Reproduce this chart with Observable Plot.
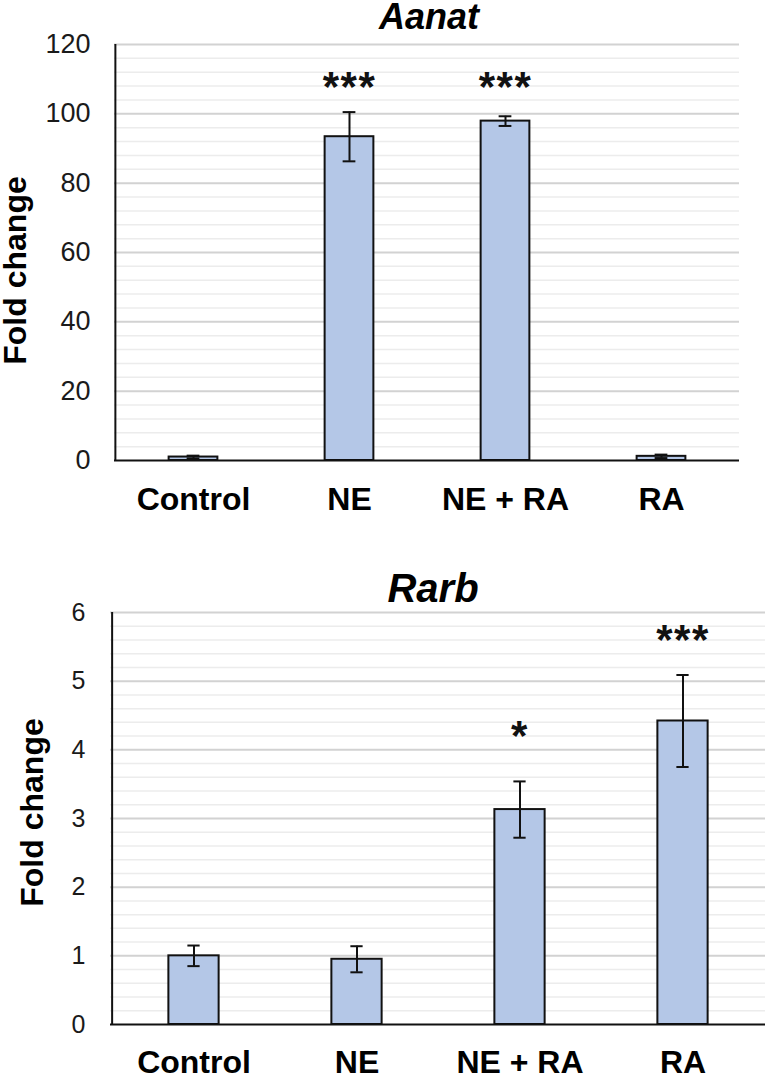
<!DOCTYPE html>
<html>
<head>
<meta charset="utf-8">
<script src="https://cdn.jsdelivr.net/npm/d3@7"></script>
<script src="https://cdn.jsdelivr.net/npm/@observablehq/plot@0.6"></script>
<style>
  html, body { margin: 0; padding: 0; background: #fff; overflow: hidden; }
  svg { display: block; }
  .stars text { letter-spacing: 1.5px; }
</style>
</head>
<body>
<div id="top"></div>
<div id="bottom"></div>
<script>
const categories = ["Control", "NE", "NE + RA", "RA"];

const aanatMean = [1.0, 93.4, 97.9, 1.2];
const aanatErr = [0.4, 7.1, 1.4, 0.5];
const aanatSig = ["", "***", "***", ""];
const aanatSigAt = [null, 103.6, 103.6, null];
const aanatTicks = [0, 20, 40, 60, 80, 100, 120];

const rarbMean = [1.0, 0.95, 3.13, 4.42];
const rarbErr = [0.15, 0.19, 0.41, 0.67];
const rarbSig = ["", "", "*", "***"];
const rarbSigAt = [null, null, 4.0, 5.40];
const rarbTicks = [0, 1, 2, 3, 4, 5, 6];

const FONT = "'Liberation Sans', Arial, Helvetica, sans-serif";

function chart(cfg) {
  const data = categories.map((c, i) => ({
    cat: c, mean: cfg.mean[i], err: cfg.err[i], sig: cfg.sig[i], sigAt: cfg.sigAt[i]
  }));
  const max = cfg.ticks[cfg.ticks.length - 1];
  const step = cfg.ticks[1] - cfg.ticks[0];
  const minorStep = step / 5;
  const minor = d3.range(1, Math.round(max / minorStep) + 1)
    .map(k => k * minorStep)
    .filter((v, k) => (k + 1) % 5 !== 0);
  const plotW = cfg.width - cfg.marginLeft - cfg.marginRight;
  const band = plotW / categories.length;
  const barInset = (band - cfg.barWidth) / 2;
  const capInset = (band - 13) / 2;
  return Plot.plot({
    width: cfg.width,
    height: cfg.height,
    marginTop: cfg.marginTop,
    marginBottom: cfg.marginBottom,
    marginLeft: cfg.marginLeft,
    marginRight: cfg.marginRight,
    style: { fontFamily: FONT, background: "#fff", color: "#000", overflow: "visible" },
    x: { domain: categories, padding: 0, axis: null },
    y: { domain: [0, max], axis: null },
    marks: [
      Plot.ruleY(minor, { stroke: "#ececec", strokeWidth: 1.5 }),
      Plot.ruleY(cfg.ticks.filter(t => t > 0), { stroke: "#d2d2d2", strokeWidth: 2 }),
      Plot.barY(data, {
        x: "cat", y: "mean", fill: "#b4c7e7", stroke: "#111", strokeWidth: 2,
        insetLeft: barInset, insetRight: barInset
      }),
      Plot.ruleX(data, {
        x: "cat", y1: d => Math.max(0, d.mean - d.err), y2: d => d.mean + d.err,
        stroke: "#111", strokeWidth: 2
      }),
      Plot.tickY(data, {
        x: "cat", y: d => d.mean + d.err, stroke: "#111", strokeWidth: 2,
        insetLeft: capInset, insetRight: capInset
      }),
      Plot.tickY(data, {
        x: "cat", y: d => Math.max(0, d.mean - d.err), stroke: "#111", strokeWidth: 2,
        insetLeft: capInset, insetRight: capInset
      }),
      Plot.ruleY([0], { stroke: "#111", strokeWidth: 2 }),
      Plot.ruleX([categories[0]], { y1: 0, y2: max, dx: -band / 2, stroke: "#111", strokeWidth: 2 }),
      Plot.axisX({
        tickSize: 0, tickPadding: cfg.xPad, fontSize: 32, fontWeight: "bold",
        fill: "#000", label: null
      }),
      Plot.text(cfg.ticks, {
        y: d => d, text: d => String(d), frameAnchor: "left", textAnchor: "end",
        lineAnchor: "middle", dx: -cfg.yPad, fontSize: cfg.tickFont, fill: "#1a1a1a"
      }),
      Plot.text(data.filter(d => d.sig), {
        x: "cat", y: "sigAt", text: "sig", lineAnchor: "bottom",
        fontSize: 42, fontWeight: "bold", fill: "#111", className: "stars"
      }),
      Plot.text([cfg.title], {
        frameAnchor: "top", dy: cfg.titleDy, dx: cfg.titleDx, lineAnchor: "bottom",
        fontSize: cfg.titleFont, fontWeight: "bold", fontStyle: "italic", fill: "#000"
      }),
      Plot.text(["Fold change"], {
        frameAnchor: "left", textAnchor: "middle", lineAnchor: "middle", rotate: -90,
        dx: cfg.labelDx, dy: cfg.labelDy, fontSize: 32, fontWeight: "bold", fill: "#000"
      })
    ]
  });
}

document.getElementById("top").append(chart({
  title: "Aanat", mean: aanatMean, err: aanatErr, sig: aanatSig, sigAt: aanatSigAt,
  ticks: aanatTicks, width: 767, height: 530,
  marginTop: 44, marginBottom: 70, marginLeft: 114, marginRight: 28,
  barWidth: 49, xPad: 27, yPad: 24, tickFont: 27,
  titleDy: -16, titleDx: 2, titleFont: 36, labelDx: -99, labelDy: 18
}));

document.getElementById("bottom").append(chart({
  title: "Rarb", mean: rarbMean, err: rarbErr, sig: rarbSig, sigAt: rarbSigAt,
  ticks: rarbTicks, width: 767, height: 547,
  marginTop: 82, marginBottom: 53, marginLeft: 110, marginRight: 2,
  barWidth: 51, xPad: 26, yPad: 25, tickFont: 25,
  titleDy: -11, titleDx: -5, titleFont: 40, labelDx: -78, labelDy: -6
}));
</script>
</body>
</html>
